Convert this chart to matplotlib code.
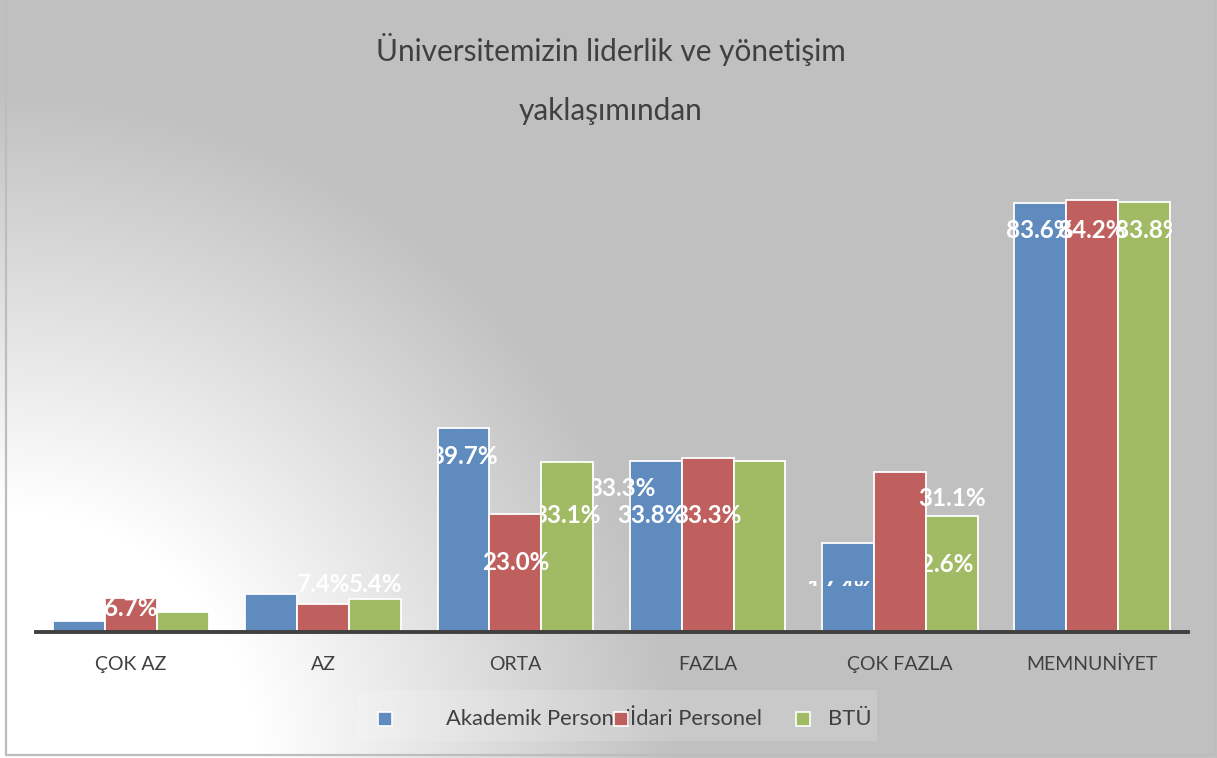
import numpy as np
import matplotlib.pyplot as plt
from matplotlib.patches import Rectangle
from matplotlib.transforms import Bbox, TransformedBbox

plt.rcParams['font.family'] = ['Lato', 'DejaVu Sans']

# data
categories = ['ÇOK AZ', 'AZ', 'ORTA', 'FAZLA', 'ÇOK FAZLA', 'MEMNUNİYET']
series = ['Akademik Personel', 'İdari Personel', 'BTÜ']
akademik = [2.1, 7.4, 39.7, 33.3, 17.4, 83.6]
idari = [6.7, 5.4, 23.0, 33.8, 31.1, 84.2]
btu = [3.9, 6.4, 33.1, 33.3, 22.6, 83.8]
values = [akademik, idari, btu]
colors = ['#5F8BBF', '#C0605E', '#A1BA64']

# where the (oddly placed) data labels sit: x shift in bar widths, y in %
# None = label not visible in the original
lbl_dx = [
    [None, 1.0, 0.0, -0.65, -0.15, 0.0],
    [0.0, 1.0, 0.0, -1.1, 1.0, 0.0],
    [None, None, 0.0, -1.0, -0.23, 0.1],
]
lbl_y = [
    [None, 9.2, 34.1, 27.9, 8.4, 78.2],
    [4.5, 9.2, 13.45, 22.6, 26.1, 78.2],
    [None, None, 22.6, 22.6, 13.1, 78.2],
]

W, H = 1217, 758
fig = plt.figure(figsize=(W / 100, H / 100), dpi=100)

# radial background, white in the lower left corner
bg = fig.add_axes([0, 0, 1, 1], zorder=-10)
yy, xx = np.mgrid[0:H, 0:W]
r = np.hypot(xx - 0, yy - (H + 10))
t = np.clip((r - 260) / 420, 0, 1)
shade = 1.0 - t * (1.0 - 0.753)
bg.imshow(np.dstack([shade] * 3), extent=[0, W, H, 0], aspect='auto')
bg.set_xlim(0, W)
bg.set_ylim(H, 0)
bg.axis('off')
# frame
bg.plot([6, 6, 1215, 1215], [0, 755, 755, 0], color='#bdbdbd', lw=1.6)

# main axes: baseline at y=632px, spans x 36..1188
ax = fig.add_axes([36 / W, (H - 632) / H, 1152 / W, 462 / H])
ax.patch.set_alpha(0)
bw = 0.27
x = np.arange(len(categories))
for i, (vals, c) in enumerate(zip(values, colors)):
    ax.bar(x + (i - 1) * bw, vals, width=bw, color=c, edgecolor='white',
           linewidth=1.3, zorder=2)

ax.set_xlim(-0.495, 5.5)
ax.set_ylim(0, 90)
for s in ['top', 'right', 'left']:
    ax.spines[s].set_visible(False)
ax.spines['bottom'].set_color('#404040')
ax.spines['bottom'].set_linewidth(2.8)
ax.spines['bottom'].set_zorder(3)
ax.set_yticks([])
ax.set_xticks(x)
ax.set_xticklabels(categories, fontsize=14, color='#404040')
ax.tick_params(axis='x', length=0, pad=17)


def clip_to(txt, x0, y0, x1, y1):
    txt.set_clip_on(True)
    txt.set_clip_box(TransformedBbox(Bbox([[x0, y0], [x1, y1]]), ax.transData))


# data labels (some partly hidden, like in the original)
clip_left = {(0, 2): 0.0, (2, 2): 0.0, (0, 3): -0.7, (2, 4): 0.0}
for i in range(3):
    for j in range(len(categories)):
        dx = lbl_dx[i][j]
        if dx is None:
            continue
        cx = x[j] + (i - 1) * bw
        tx = ax.text(cx + dx * bw, lbl_y[i][j], f'{values[i][j]:.1f}%',
                     ha='center', va='center', color='white',
                     fontsize=17.5, fontweight='bold', zorder=4)
        if (i, j) in clip_left:
            clip_to(tx, cx - bw / 2 + clip_left[(i, j)] * bw, -5, 10, 100)
        elif (i, j) == (0, 4):
            clip_to(tx, -1, 8.95, 10, 9.95)
        elif (i, j) == (2, 5):
            clip_to(tx, -1, -5, 5.417, 100)

# title
fig.text(611 / W, 1 - 50 / H, 'Üniversitemizin liderlik ve yönetişim',
         ha='center', va='center', fontsize=21.4, color='#404040')
fig.text(611 / W, 1 - 111 / H, 'yaklaşımından',
         ha='center', va='center', fontsize=21.4, color='#404040')

# legend (hand placed, as in the original)
bg.add_patch(Rectangle((357, 690), 520, 51, facecolor='white', alpha=0.15,
                       edgecolor='none'))
leg_marker_x = [378, 614, 796]
leg_text_x = [446, 630, 828]
for mx, tx_, name, c in zip(leg_marker_x, leg_text_x, series, colors):
    bg.text(tx_, 719, name, ha='left', va='center', fontsize=15.8,
            color='#404040', zorder=4)
    bg.add_patch(Rectangle((mx, 712), 14, 14, facecolor=c, edgecolor='white',
                           lw=1.2, zorder=5))

fig.savefig('out.png', dpi=100)
